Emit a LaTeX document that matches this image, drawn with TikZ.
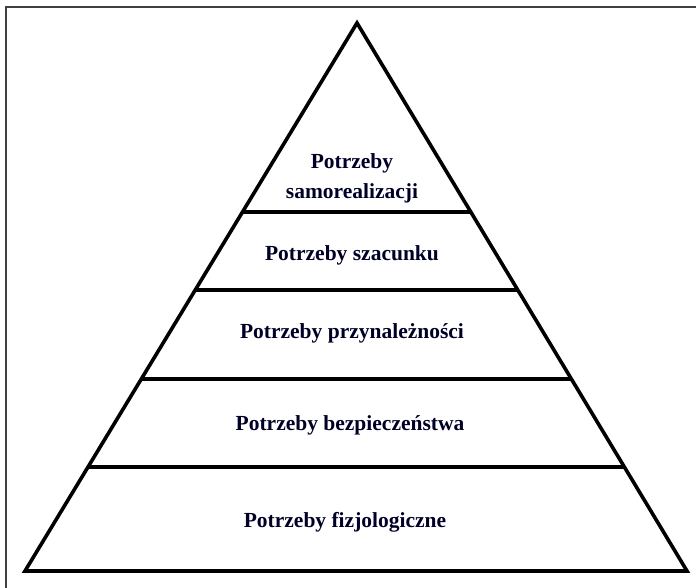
\documentclass[tikz,border=0pt]{standalone}
\usepackage{fontspec}
\setmainfont{Liberation Serif}
\usepackage{tikz}
\usetikzlibrary{calc}

\tikzset{
  level/.style={line width=3.6pt, black},
  label/.style={font=\bfseries\fontsize{21.5}{30}\selectfont, align=center, text=black!85!blue},
}

\begin{document}
\begin{tikzpicture}[x=1pt, y=-1pt]
  \useasboundingbox (0,0) rectangle (696,588);
  \draw[line width=1.3pt, black!75] (6,600) -- (6,7) -- (700,7);
  \coordinate (apex) at (357,23);
  \coordinate (bl) at (25,571);
  \coordinate (br) at (687,571);
  \foreach \t/\n in {0.345/1, 0.487/2, 0.650/3, 0.810/4} {
    \coordinate (l\n) at ($(apex)!\t!(bl)$);
    \coordinate (r\n) at ($(apex)!\t!(br)$);
  }
  \draw[level, line join=miter] (apex) -- (bl) -- (br) -- cycle;
  \draw[level] (l1) -- (r1);
  \draw[level] (l2) -- (r2);
  \draw[level] (l3) -- (r3);
  \draw[level] (l4) -- (r4);
  \node[label] (self) at (352,178) {Potrzeby\\samorealizacji};
  \node[label] (esteem) at (352,255) {Potrzeby szacunku};
  \node[label] (belong) at (352,333) {Potrzeby przynależności};
  \node[label] (safety) at (350,425) {Potrzeby bezpieczeństwa};
  \node[label] (physio) at (345,522) {Potrzeby fizjologiczne};
\end{tikzpicture}
\end{document}
